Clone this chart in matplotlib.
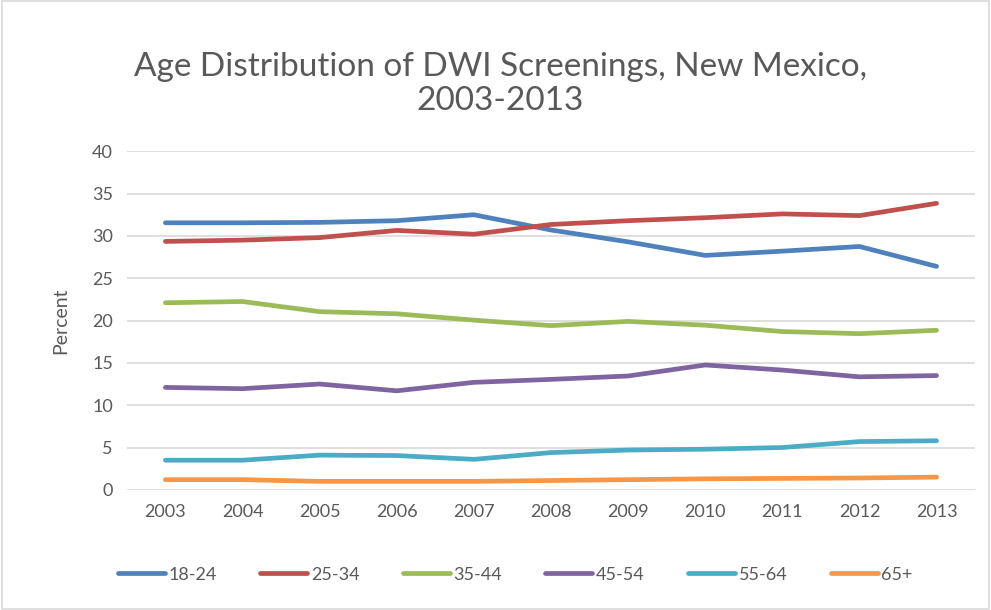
import matplotlib
matplotlib.use("Agg")
import numpy as np
from matplotlib import pyplot as plt
from matplotlib.patches import Rectangle

plt.rcParams['font.family'] = ['Lato', 'DejaVu Sans']

years = ['2003', '2004', '2005', '2006', '2007', '2008',
         '2009', '2010', '2011', '2012', '2013']

age_18_24 = [31.55, 31.55, 31.6, 31.8, 32.5, 30.7, 29.3, 27.7, 28.2, 28.75, 26.4]
age_25_34 = [29.35, 29.5, 29.8, 30.65, 30.2, 31.35, 31.8, 32.15, 32.6, 32.4, 33.85]
age_35_44 = [22.1, 22.25, 21.05, 20.8, 20.05, 19.4, 19.9, 19.45, 18.7, 18.45, 18.85]
age_45_54 = [12.1, 11.95, 12.5, 11.7, 12.7, 13.05, 13.45, 14.75, 14.15, 13.35, 13.5]
age_55_64 = [3.5, 3.5, 4.1, 4.05, 3.6, 4.4, 4.7, 4.8, 5.0, 5.7, 5.8]
age_65_up = [1.2, 1.2, 1.0, 1.0, 1.0, 1.1, 1.2, 1.3, 1.35, 1.4, 1.5]

series = [
    ('18-24', age_18_24, '#4f81bd'),
    ('25-34', age_25_34, '#c0504d'),
    ('35-44', age_35_44, '#9bbb59'),
    ('45-54', age_45_54, '#8064a2'),
    ('55-64', age_55_64, '#4bacc6'),
    ('65+', age_65_up, '#f79646'),
]

fig = plt.figure(figsize=(9.91, 6.1), dpi=100)
ax = fig.add_axes([0.128, 0.197, 0.856, 0.555])

x = np.arange(len(years))
for label, vals, color in series:
    ax.plot(x, vals, label=label, color=color, linewidth=3.4,
            solid_capstyle='round', solid_joinstyle='round')

ax.set_xlim(-0.5, len(years) - 0.5)
ax.set_ylim(0, 40)
ax.set_yticks(np.arange(0, 41, 5))
ax.set_xticks(x)
ax.set_xticklabels(years)
ax.tick_params(axis='both', length=0, labelsize=13, colors='#595959', pad=10)
ax.yaxis.grid(True, color='#d9d9d9', linewidth=1.2)
ax.set_axisbelow(True)
for s in ax.spines.values():
    s.set_visible(False)

ax.set_ylabel('Percent', fontsize=14, color='#595959', labelpad=16)

fig.text(0.505, 0.862, 'Age Distribution of DWI Screenings, New Mexico,\n2003-2013',
         ha='center', va='center', fontsize=24, color='#595959', linespacing=1.15)

leg = fig.legend(loc='center', bbox_to_anchor=(0.52, 0.058), ncol=6, frameon=False,
                 fontsize=13, handlelength=2.6, columnspacing=2.4, handletextpad=0.2)
for t in leg.get_texts():
    t.set_color('#595959')

fig.patches.append(Rectangle((0.002, 0.002), 0.996, 0.996, transform=fig.transFigure,
                             fill=False, edgecolor='#d9d9d9', linewidth=1.2))

fig.savefig('out.png', dpi=100)
